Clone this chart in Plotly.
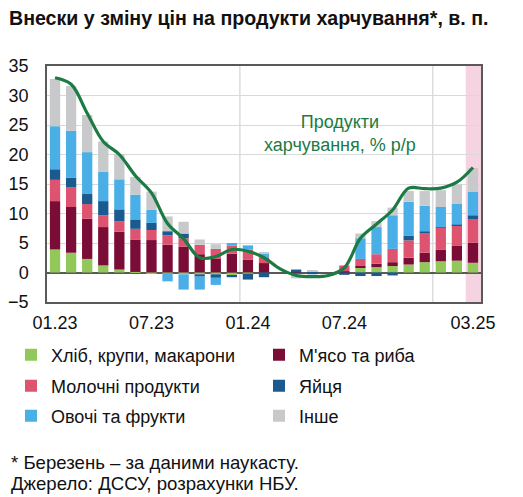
import plotly.graph_objects as go

months = ["01.23", "02.23", "03.23", "04.23", "05.23", "06.23", "07.23", "08.23", "09.23",
          "10.23", "11.23", "12.23", "01.24", "02.24", "03.24", "04.24", "05.24", "06.24",
          "07.24", "08.24", "09.24", "10.24", "11.24", "12.24", "01.25", "02.25", "03.25"]

bread = [3.9, 3.35, 2.3, 1.2, 0.5, 0.1, -0.2, -0.1, -0.3, -0.3, -0.3, -0.5, -0.2, 0.0,
         0.0, 0.0, 0.0, 0.0, 0.0, 0.8, 0.9, 1.1, 1.35, 1.75, 1.9, 2.0, 1.65]
meat = [8.2, 7.75, 6.8, 6.5, 6.4, 5.5, 5.5, 4.7, 4.4, 3.1, 2.3, 3.2, 2.2, 1.6,
        0.0, -0.2, 0.2, 0.0, 0.2, 0.3, 0.6, 0.65, 1.15, 1.6, 2.0, 2.5, 3.4]
dairy = [3.6, 3.3, 2.5, 2.0, 1.8, 1.8, 1.7, 1.6, 1.4, 1.6, 1.7, 1.4, 1.7, 1.0,
         0.0, 0.0, 0.0, 0.0, 1.0, 1.2, 1.6, 2.25, 2.95, 3.25, 3.65, 3.5, 3.95]
eggs = [1.8, 1.7, 1.7, 2.4, 2.0, 1.6, 1.2, 0.7, 0.8, -0.4, -0.6, -0.3, -1.0, -0.8,
        0.0, 0.5, -0.3, 0.0, -0.4, -0.6, -0.6, -0.5, 0.75, 0.4, 0.1, 0.1, 0.7]
veg = [7.3, 7.9, 7.1, 5.0, 5.1, 4.2, 2.2, -1.4, -2.6, -2.2, -1.2, 0.4, 0.7, 0.7,
       0.0, 0.0, 0.0, 0.0, 0.0, 3.5, 4.6, 5.7, 5.8, 4.3, 3.45, 3.6, 4.0]
other = [8.0, 7.6, 6.3, 5.1, 4.3, 3.0, 3.1, 2.5, 2.0, 0.9, 0.8, 0.0, 0.0, 0.1,
         0.0, -0.8, 0.1, 0.0, 0.0, 0.8, 1.0, 1.3, 1.8, 2.5, 2.85, 3.2, 4.0]
food_yoy = [33.0, 31.9, 27.0, 22.2, 20.0, 16.4, 13.5, 8.3, 5.7, 2.5, 2.7, 3.9, 3.6, 2.5,
            0.6, -0.5, -0.7, -0.5, 0.8, 5.8, 8.2, 10.6, 14.3, 14.2, 14.3, 15.3, 17.8]

tick_months = ["01.23", "07.23", "01.24", "07.24", "03.25"]

series = [
    ("Хліб, крупи, макарони", bread, "#92C85A"),
    ("М'ясо та риба", meat, "#7A0C35"),
    ("Молочні продукти", dairy, "#DE5470"),
    ("Яйця", eggs, "#1A5A8E"),
    ("Овочі та фрукти", veg, "#4AAFE6"),
    ("Інше", other, "#C7C9CB"),
]

FONT = "Liberation Sans, Arial, sans-serif"
FS = 18
W, H = 515, 489  # page body has an 8px margin in the viewer

fig = go.Figure()
legend_ids = ["legend", "legend2", "legend3", "legend4", "legend5", "legend6"]
for (name, vals, color), leg in zip(series, legend_ids):
    fig.add_trace(go.Bar(x=months, y=vals, name=name, marker_color=color,
                         marker_line_width=0, legend=leg))

fig.add_trace(go.Scatter(x=months, y=food_yoy, mode="lines", line_shape="spline",
                         line=dict(color="#1B7B43", width=3.2), showlegend=False))

# march 2025 nowcast band
fig.add_shape(type="rect", xref="x", yref="paper", x0=25.55, x1=26.5, y0=0, y1=1,
              fillcolor="#F6D3E0", line_width=0, layer="below")
# year separators
for xv in [11.5, 23.5]:
    fig.add_shape(type="line", xref="x", yref="paper", x0=xv, x1=xv, y0=0, y1=1,
                  line=dict(color="#D4D4D4", width=1.2), layer="below")

fig.add_annotation(x=17.7, y=23.5, xref="x", yref="y", text="Продукти<br>харчування, % р/р",
                   showarrow=False, font=dict(family=FONT, size=FS, color="#1B7B43"))

notes = ["* Березень – за даними наукасту.", "Джерело: ДССУ, розрахунки НБУ."]
for txt, yv in zip(notes, [-0.682, -0.767]):
    fig.add_annotation(x=-0.0876, y=yv, xref="paper", yref="paper", xanchor="left",
                       yanchor="middle", align="left", showarrow=False, text=txt,
                       font=dict(family=FONT, size=18.6, color="#111111"))

leg_style = dict(orientation="h", xref="container", yref="container", xanchor="left",
                 yanchor="middle", font=dict(family=FONT, size=FS, color="#111111"),
                 bgcolor="rgba(0,0,0,0)")
col_x = [3 / W, 251 / W]
row_y = [1 - 347 / H, 1 - 378 / H, 1 - 408 / H]
legends = {}
for i, leg in enumerate(legend_ids):
    legends[leg] = dict(leg_style, x=col_x[i % 2], y=row_y[i // 2])

fig.update_layout(
    width=W, height=H,
    margin=dict(l=39, r=42, t=58, b=195, autoexpand=False),
    paper_bgcolor="white", plot_bgcolor="white",
    barmode="relative", bargap=0.36,
    font=dict(family=FONT, size=FS, color="#111111"),
    title=dict(text="<b>Внески у зміну цін на продукти харчування*, в. п.</b>",
               x=1 / W, xref="container", xanchor="left", y=1 - 10 / H, yref="container",
               yanchor="middle", pad=dict(t=0, b=0, l=0, r=0),
               font=dict(family=FONT, size=19.6, color="#111111")),
    xaxis=dict(tickmode="array", tickvals=tick_months, ticktext=tick_months,
               showgrid=False, ticks="", showline=True, linecolor="#595959", linewidth=1.5,
               mirror=True, range=[-0.5, 26.5], ticklabelstandoff=4,
               tickfont=dict(family=FONT, size=FS, color="#111111")),
    yaxis=dict(range=[-5, 35], dtick=5, showgrid=True, gridcolor="#D9D9D9", gridwidth=1,
               zeroline=True, zerolinecolor="#595959", zerolinewidth=1.5,
               showline=True, linecolor="#595959", linewidth=1.5, mirror=True,
               ticks="", ticklabelstandoff=13,
               tickfont=dict(family=FONT, size=FS, color="#111111")),
    **legends,
)

fig.write_html("out.html")
